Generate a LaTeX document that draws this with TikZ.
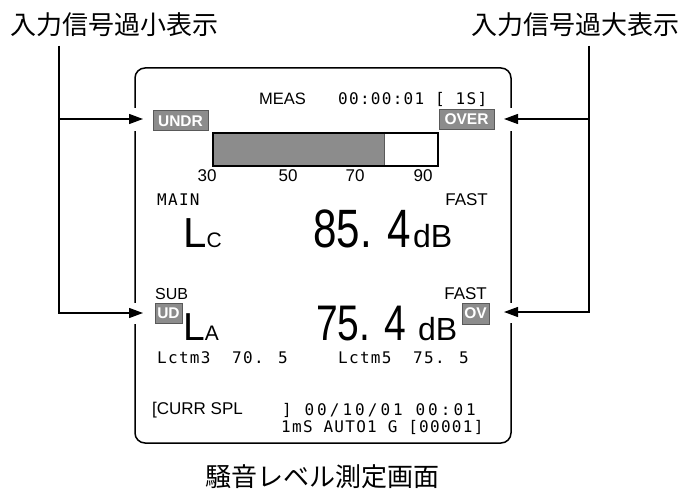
\documentclass[tikz,border=0pt]{standalone}
\usepackage{fontspec}
\setmainfont{Liberation Sans}
\newfontfamily\lcdmono[LetterSpace=8]{DejaVu Sans Mono}
\newfontfamily\lcdwide[LetterSpace=19]{DejaVu Sans Mono}
\newfontfamily\jpfont{Noto Sans CJK JP}
\usetikzlibrary{arrows.meta}
\newcommand{\fsz}[1]{\fontsize{#1}{#1}\selectfont}
\newcommand{\narrowdigits}[1]{\scalebox{0.78}[1]{#1}}
\definecolor{flaggray}{gray}{0.55}
\definecolor{flagedge}{gray}{0.35}

\begin{document}
\begin{tikzpicture}[x=1pt,y=-1pt,
  txt/.style={inner sep=0pt,font=\fsz{16}},
  mono/.style={inner sep=0pt,font=\lcdmono\fsz{16}},
  jp/.style={inner sep=0pt,font=\jpfont\fsz{26}},
  flag/.style={fill=flaggray,draw=flagedge,line width=1pt,text=white,
    inner sep=0pt,minimum height=20pt,font=\bfseries\fsz{15.5}},
  sig/.style={line width=1.3pt,-{Triangle[length=14pt,width=10pt]}}]
\useasboundingbox (0,0) rectangle (685,489);
% screen frame
\draw[line width=1.5pt,rounded corners=10pt] (135,68) rectangle (511,443);
% labels
\node[jp] (lblunder) at (114.5,25) {入力信号過小表示};
\node[jp] (lblover) at (575.5,25) {入力信号過大表示};
\node[jp] (caption) at (322,477) {騒音レベル測定画面};
% top line
\node[txt,font=\fsz{16.5},anchor=west] (meas) at (259,99) {MEAS};
\node[mono,anchor=west] (clock) at (338,99) {00:00:01 [ 1S]};
\node[flag,minimum width=55pt] (undr) at (180.5,121) {UNDR};
\node[flag,minimum width=55pt] (over) at (466.5,119.5) {OVER};
% level bar
\fill[flaggray] (212,132) rectangle (384,167);
\draw[flagedge] (384,132) -- (384,167);
\draw[line width=2.8pt] (213,133) rectangle (438,166);
\foreach \v/\x in {30/207,50/288,70/355,90/423}
  \node[txt,font=\fsz{17}] (sc\v) at (\x,176) {\v};
% main channel
\node[mono,anchor=west] (main) at (157,200) {MAIN};
\node[txt,font=\fsz{17},anchor=east] (fastmain) at (488,200) {FAST};
\node[inner sep=0pt,anchor=base west] (lc) at (183,247)
  {\fsz{42}L\fsz{21}C};
\node[inner sep=0pt,anchor=base west,font=\fsz{54}] (valmain) at (313,247)
  {\narrowdigits{85. 4}};
\node[inner sep=0pt,anchor=base west,font=\fsz{32}] (dbmain) at (413,247) {dB};
% sub channel
\node[txt,font=\fsz{16},anchor=west] (sub) at (155,294) {SUB};
\node[txt,font=\fsz{17},anchor=east] (fastsub) at (487,294) {FAST};
\node[flag,minimum width=27pt] (ud) at (168.5,313) {UD};
\node[flag,minimum width=27pt,minimum height=21pt] (ov) at (475.5,313.5) {OV};
\node[inner sep=0pt,anchor=base west] (la) at (183,340)
  {\fsz{39}L\fsz{21}A};
\node[inner sep=0pt,anchor=base west,font=\fsz{50}] (valsub) at (316,340)
  {\narrowdigits{75. 4}};
\node[inner sep=0pt,anchor=base west,font=\fsz{32}] (dbsub) at (418,340) {dB};
% Lctm row
\node[mono,anchor=west] (lctm3) at (157,358) {Lctm3};
\node[mono,anchor=west] (lctm3v) at (232,358) {70. 5};
\node[mono,anchor=west] (lctm5) at (338,358) {Lctm5};
\node[mono,anchor=west] (lctm5v) at (413,358) {75. 5};
% status lines
\node[txt,font=\fsz{17},anchor=west] (curr) at (152,410.5) {[CURR SPL};
\node[mono,font=\lcdwide\fsz{16},anchor=west] (date) at (282,410.5)
  {] 00/10/01 00:01};
\node[mono,anchor=west] (mode) at (281,427) {1mS AUTO1 G [00001]};
% arrows into the frame
\coordinate (ltop) at (59,46);
\coordinate (rtop) at (589,46);
\coordinate (undrtip) at (143,119);
\coordinate (udtip) at (143,313);
\coordinate (overtip) at (504,119);
\coordinate (ovtip) at (504,312);
\fill[white] (131,108) rectangle (139,131);
\fill[white] (131,303) rectangle (139,324);
\fill[white] (507,108) rectangle (515,131);
\fill[white] (507,303) rectangle (515,323);
\draw[sig] (ltop) |- (undrtip);
\draw[sig] (ltop) |- (udtip);
\draw[sig] (rtop) |- (overtip);
\draw[sig] (rtop) |- (ovtip);
\end{tikzpicture}
\end{document}
